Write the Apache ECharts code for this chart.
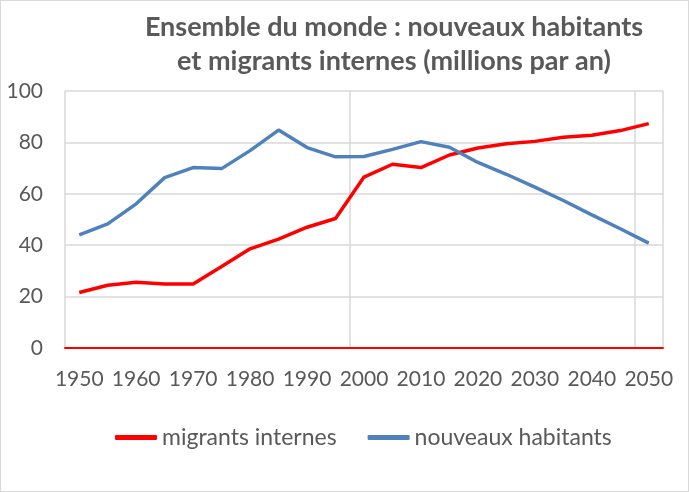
<!DOCTYPE html>
<html><head><meta charset="utf-8">
<script src="https://cdn.jsdelivr.net/npm/echarts@6/dist/echarts.min.js"></script>
<style>html,body{margin:0;padding:0;background:#fff}#c{width:687px;height:490px;border:1px solid #d9d9d9}</style>
</head><body><div id="c"></div>
<script>
const years = ['1950','1955','1960','1965','1970','1975','1980','1985','1990','1995','2000','2005','2010','2015','2020','2025','2030','2035','2040','2045','2050'];
const migrantsInternes = [21.6,24.4,25.6,24.9,24.9,31.7,38.6,42.4,47.0,50.4,66.5,71.5,70.2,75.1,77.8,79.5,80.4,82.0,82.8,84.6,87.3];
const nouveauxHabitants = [44.0,48.3,56.1,66.3,70.2,69.8,76.8,84.8,78.0,74.4,74.5,77.3,80.3,78.1,72.2,67.6,62.6,57.4,51.8,46.4,40.8];
const titleText = 'Ensemble du monde : nouveaux habitants\net migrants internes (millions par an)';
const font = 'Lato, "Open Sans", sans-serif';
const chart = echarts.init(document.getElementById('c'));
chart.setOption({
  animation:false,
  title:{text:titleText,left:388,top:4,textAlign:'center',
    textStyle:{fontFamily:font,fontSize:27,fontWeight:'bold',color:'#595959',lineHeight:34}},
  grid:{left:64,right:25,top:90,bottom:143,containLabel:false},
  legend:{top:420,left:109,itemGap:31,itemWidth:42,itemHeight:5,icon:'roundRect',
    textStyle:{fontFamily:font,fontSize:23,color:'#595959'},
    data:['migrants internes','nouveaux habitants']},
  xAxis:{type:'category',data:years,boundaryGap:true,
    axisLine:{lineStyle:{color:'#FF0000',width:2}},
    axisTick:{show:false},
    axisLabel:{interval:1,fontFamily:font,fontSize:21,color:'#595959',margin:21},
    splitLine:{show:true,interval:(i)=>i%10===0,lineStyle:{color:'#D9D9D9',width:1.5}}},
  yAxis:{type:'value',min:0,max:100,interval:20,
    axisLine:{show:false},axisTick:{show:false},
    axisLabel:{fontFamily:font,fontSize:21,color:'#595959',margin:22},
    splitLine:{lineStyle:{color:'#D9D9D9',width:1.5}}},
  series:[
    {name:'migrants internes',type:'line',data:migrantsInternes,symbol:'none',
      lineStyle:{color:'#FF0000',width:3.5},itemStyle:{color:'#FF0000'}},
    {name:'nouveaux habitants',type:'line',data:nouveauxHabitants,symbol:'none',
      lineStyle:{color:'#4F81BD',width:3.5},itemStyle:{color:'#4F81BD'}}
  ]
});
</script></body></html>
